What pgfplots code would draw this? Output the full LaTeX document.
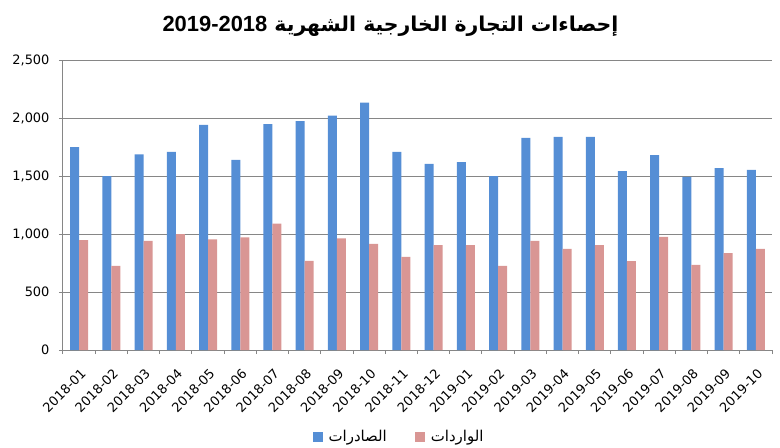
\documentclass[border=0pt]{standalone}
\usepackage{pgfplots}
\pgfplotsset{compat=1.18}
\usepackage{pgfplotstable}
\usepackage{fontspec}
\setmainfont{DejaVu Sans}
\newfontfamily\arabicfont[Script=Arabic]{DejaVu Sans}
\newfontfamily\arialfont{Liberation Sans}
\TeXXeTstate=1
\definecolor{expc}{RGB}{85,142,213}
\definecolor{impc}{RGB}{217,150,148}
\definecolor{gridc}{RGB}{134,134,134}

\pgfplotstableread{
x exports imports
0 1750 948
1 1500 726
2 1686 941
3 1707 1000
4 1940 953
5 1638 970
6 1948 1090
7 1974 768
8 2020 963
9 2132 914
10 1707 802
11 1604 905
12 1620 905
13 1500 726
14 1828 940
15 1838 871
16 1838 905
17 1541 767
18 1679 975
19 1493 733
20 1568 836
21 1552 871
}\datatable

\begin{document}
\begin{tikzpicture}
\begin{axis}[
  name=ax,
  scale only axis,
  width=709bp, height=290bp,
  xmin=-0.5, xmax=21.5, ymin=0, ymax=2500,
  ybar=0pt, bar width=9bp,
  ytick={0,500,1000,1500,2000,2500},
  xtick={-0.5,0.5,...,21.5},
  x tick label as interval,
  xticklabels={2018-01,2018-02,2018-03,2018-04,2018-05,2018-06,2018-07,2018-08,2018-09,2018-10,2018-11,2018-12,2019-01,2019-02,2019-03,2019-04,2019-05,2019-06,2019-07,2019-08,2019-09,2019-10},
  xticklabel style={rotate=45, anchor=north east, xshift=-6bp, yshift=-7bp},
  yticklabel style={xshift=-6bp},
  ymajorgrids,
  grid style={gridc, line width=1bp},
  axis x line*=bottom, axis y line*=left,
  axis line style={gridc, line width=1bp},
  tick align=outside,
  major tick length=4bp,
  tick style={gridc, line width=1bp},
  tick label style={font=\fontsize{13}{13}\selectfont, text=black},
  /pgf/number format/assume math mode=true,
  /pgf/number format/1000 sep={,},
  scaled y ticks=false,
  legend style={at={(0.474,-0.30)}, anchor=center, draw=none, fill=none,
    legend columns=2, font=\fontsize{15}{15}\selectfont,
    /tikz/every odd column/.append style={column sep=4bp},
    /tikz/every even column/.append style={column sep=26bp}},
  legend image code/.code={\fill[#1] (0bp,-5bp) rectangle (10bp,5bp);},
]
\addplot[fill=expc, draw=none] table[x=x, y=exports] {\datatable};
\addplot[fill=impc, draw=none] table[x=x, y=imports] {\datatable};
\legend{{\arabicfont\beginR الصادرات\endR},{\arabicfont\beginR الواردات\endR}}
\end{axis}
\node[font=\arabicfont\bfseries\fontsize{20.5}{20.5}\selectfont] at ([xshift=-27bp, yshift=34bp]ax.north) {\beginR إحصاءات التجارة الخارجية الشهرية \beginL{\arialfont\bfseries\fontsize{22}{22}\selectfont 2019-2018}\endL\endR};
\path ([xshift=-63bp,yshift=-98bp]ax.south west) rectangle ([xshift=8bp,yshift=60bp]ax.north east);
\end{tikzpicture}
\end{document}
